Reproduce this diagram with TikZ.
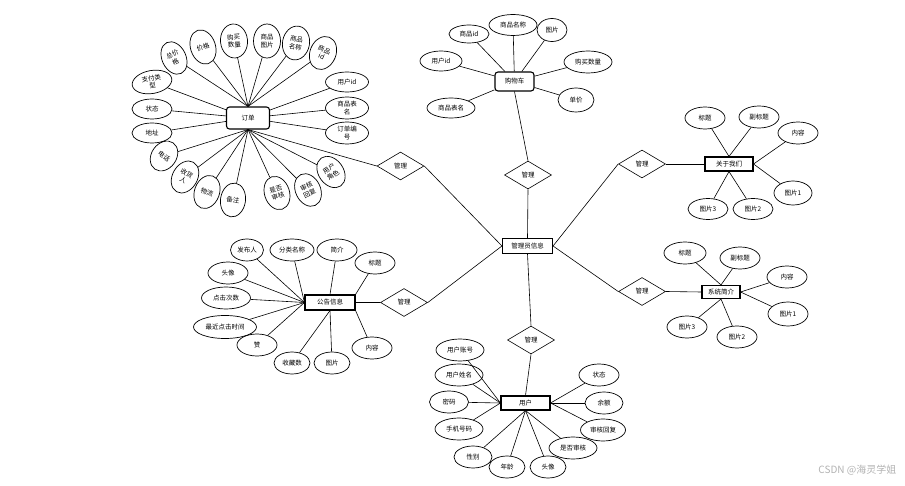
\documentclass[tikz,border=0pt]{standalone}
\usepackage{fontspec}
\setmainfont{Noto Sans CJK SC}
\usetikzlibrary{shapes.geometric}

\begin{document}
\begin{tikzpicture}[x=1pt, y=-1pt, font=\fontsize{6.5}{7.5}\selectfont, line width=0.6pt,
  attrstyle/.style={draw=black, ellipse, inner sep=0pt, align=center, line width=0.7pt},
  entitystyle/.style={draw=black, line width=1.1pt, inner sep=0pt, minimum width=#1, minimum height=14},
  relstyle/.style={draw=black, diamond, aspect=1.7, inner sep=0pt, minimum width=47, minimum height=28}]

  \useasboundingbox (0,0) rectangle (905,486);

  \node[entitystyle=50, minimum height=15] (admin) at (527.5,246) {管理员信息};
  \node[entitystyle=43, minimum height=22, rounded corners=3pt] (order) at (248,118) {订单};
  \node[entitystyle=39, minimum height=19, rounded corners=3pt] (cart) at (514.5,81.5) {购物车};
  \node[entitystyle=48] (about) at (729,164) {关于我们};
  \node[entitystyle=38, minimum height=13] (intro) at (721,292) {系统简介};
  \node[entitystyle=50, minimum height=15] (notice) at (330,302.5) {公告信息};
  \node[entitystyle=49] (user) at (525.5,403) {用户};

  \node[relstyle] (d1) at (400.5,166) {管理};
  \node[relstyle] (d2) at (528,175) {管理};
  \node[relstyle] (d3) at (642,164) {管理};
  \node[relstyle] (d4) at (642,291.5) {管理};
  \node[relstyle] (d5) at (404,302.5) {管理};
  \node[relstyle] (d6) at (531,340) {管理};

  \draw (order.south) -- (d1.west);
  \draw (d1.east) -- (admin.west);
  \draw (cart.south) -- (d2.north);
  \draw (d2.south) -- (admin.north);
  \draw (admin.east) -- (d3.west);
  \draw (d3.east) -- (about.west);
  \draw (admin.east) -- (d4.west);
  \draw (d4.east) -- (intro.west);
  \draw (admin.west) -- (d5.east);
  \draw (d5.west) -- (notice.east);
  \draw (admin.south) -- (d6.north);
  \draw (d6.south) -- (user.north);

  % order
  \foreach \n/\x/\y/\w/\h/\r/\t in {zjg/174/58/24/34/25/总价\\格, jg/203/47/25/35/18/价格,
    gmsl/234/41/27/34/5/购买\\数量, sptp/267/41/27/34/0/商品\\图片,
    spmc/296/43/27/34/-10/商品\\名称, spid/323/53/26/34/-22/商品\\id} {
    \node[attrstyle, minimum width=\w, minimum height=\h, rotate=\r] (\n) at (\x,\y) {\t};
    \draw (order.north) -- (\n);
  }
  \foreach \n/\x/\y/\w/\h/\r/\t in {dh/164/156/25/32/-35/电话, shr/185/177/25/34/-30/收货\\人,
    wl/207/192/25/34/-20/物流, bz/233/200/25/34/-8/备注, sfsh/277/193/25/34/18/是否\\审核,
    shhf/308/190/25/34/25/审核\\回复, yhjs/331/172/25/34/35/用户\\角色} {
    \node[attrstyle, minimum width=\w, minimum height=\h, rotate=\r] (\n) at (\x,\y) {\t};
    \draw (order.south) -- (\n);
  }
  \foreach \n/\x/\y/\w/\h/\r/\t in {zflx/152/82/40/23/10/支付类\\型, zt/152/109/40/20/0/状态,
    dz/152/133/40/20/0/地址, yhid/347/82/43/20/0/用户id, spbm/347/108/43/22/0/商品表\\名,
    ddbh/347/133/43/22/0/订单编\\号} {
    \node[attrstyle, minimum width=\w, minimum height=\h, rotate=\r] (\n) at (\x,\y) {\t};
    \draw (order) -- (\n);
  }

  % cart
  \foreach \n/\x/\y/\w/\h/\t in {cspid/469/34/40/18/商品id, cspmc/513/25/48/21/商品名称,
    ctp/552/30/30/23/图片, cyhid/441/61/42/20/用户id, cgmsl/588/62/48/22/购买数量,
    cspbm/451/108/48/20/商品表名, cdj/576/100/36/24/单价} {
    \node[attrstyle, minimum width=\w, minimum height=\h] (\n) at (\x,\y) {\t};
    \draw (cart) -- (\n);
  }

  % about
  \foreach \n/\x/\y/\w/\h/\a/\t in {abt/705/118/40/22/north/标题, afbt/759/117/40/22/north/副标题,
    anr/798/133/40/22/east/内容, atp1/793/193/38/24/east/图片1,
    atp3/708/209/40/21/south/图片3, atp2/753/209/40/21/south/图片2} {
    \node[attrstyle, minimum width=\w, minimum height=\h] (\n) at (\x,\y) {\t};
    \draw (about.\a) -- (\n);
  }

  % intro
  \foreach \n/\x/\y/\w/\h/\a/\t in {ibt/685/253/42/22/north/标题, ifbt/740/258/40/22/north/副标题,
    inr/787/277/40/22/east/内容, itp1/788/314/40/24/east/图片1,
    itp3/687/327/40/22/south/图片3, itp2/737/337/40/22/south/图片2} {
    \node[attrstyle, minimum width=\w, minimum height=\h] (\n) at (\x,\y) {\t};
    \draw (intro.\a) -- (\n);
  }

  % notice
  \foreach \n/\x/\y/\w/\h/\a/\t in {nfbr/247/250/33/22/west/发布人, nflmc/292/250/44/22/west/分类名称,
    njj/337/250/40/22/north/简介, nbt/375/263/40/22/north east/标题,
    ntx/228/273/40/22/west/头像, ndjcs/226/298/49/22/west/点击次数,
    nzjdjsj/225/327/63/23/west/最近点击时间, nz/257/345/40/22/west/赞,
    nscs/292/363/36/22/south/收藏数, ntp/332/363/36/22/south/图片,
    nnr/372/348/40/22/south east/内容} {
    \node[attrstyle, minimum width=\w, minimum height=\h] (\n) at (\x,\y) {\t};
    \draw (notice.\a) -- (\n);
  }

  % user
  \foreach \n/\x/\y/\w/\h/\a/\t in {uyhzh/460/350/48/22/west/用户账号, uyhxm/459/375/48/22/west/用户姓名,
    umm/449/402/39/22/west/密码, usjhm/459/429/48/22/west/手机号码,
    uxb/473/457/38/22/south/性别, unl/507/467/36/22/south/年龄,
    utx/548/467/36/22/south/头像, usfsh/573/448/48/22/south/是否审核,
    ushhf/603/430/45/22/east/审核回复, uye/604/403/38/22/east/余额,
    uzt/599/375/40/22/east/状态} {
    \node[attrstyle, minimum width=\w, minimum height=\h] (\n) at (\x,\y) {\t};
    \draw (user.\a) -- (\n);
  }

  \node[text=black!30, font=\fontsize{10}{12}\selectfont, anchor=east] (mark) at (900,470) {CSDN @海灵学姐};

\end{tikzpicture}
\end{document}
